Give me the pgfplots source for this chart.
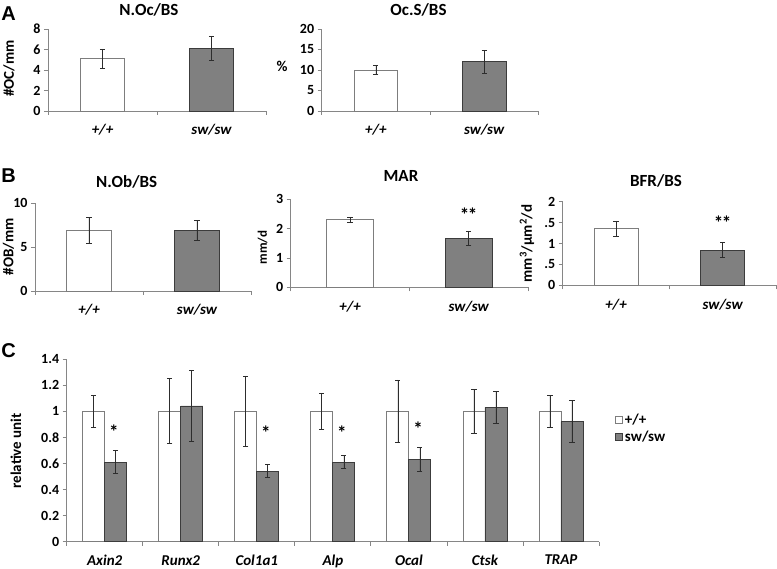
\documentclass[border=0pt]{standalone}
\usepackage{pgfplots}
\pgfplotsset{compat=1.18}
\usepackage{fontspec}
\setmainfont{Carlito}
\newfontfamily\letterfont{Liberation Sans}

\definecolor{axgray}{RGB}{134,134,134}
\definecolor{darkbar}{RGB}{128,128,128}
\definecolor{darkedge}{RGB}{60,60,60}
\definecolor{lightedge}{RGB}{125,125,125}
\definecolor{errc}{RGB}{45,45,45}

\newcommand{\tickfont}{\bfseries\fontsize{14}{14}\selectfont}
\newcommand{\catfont}{\bfseries\itshape\fontsize{15}{15}\selectfont}
\newcommand{\titlefont}{\bfseries\fontsize{17}{17}\selectfont}
\newcommand{\labfont}{\bfseries\fontsize{15}{15}\selectfont}
\newcommand{\starfont}{\bfseries\fontsize{19}{19}\selectfont}

\pgfplotsset{
  panel/.style={
    scale only axis, clip=false,
    axis x line*=bottom, axis y line*=left,
    axis line style={axgray, line width=0.8pt},
    every tick/.style={axgray, line width=0.8pt},
    tick align=outside, major tick length=4pt,
    ymin=0, xmin=0, xmax=2,
    xtick={0,1,2}, x tick label as interval,
    xticklabels={+/+, sw/sw},
    yticklabel style={font=\tickfont, text=black},
    xticklabel style={font=\catfont, text=black, yshift=-6pt},
    /pgf/number format/assume math mode=true,
  },
  wbar/.style={ybar, bar shift=0pt, fill=white, draw=lightedge, line width=0.8pt},
  gbar/.style={ybar, bar shift=0pt, fill=darkbar, draw=darkedge, line width=0.8pt},
  eb/.style={error bars/.cd, y dir=both, y explicit,
    error bar style={errc, line width=0.7pt},
    error mark options={rotate=90, errc, mark size=2.6pt, line width=0.7pt}},
}

\begin{document}
\begin{tikzpicture}
\path[use as bounding box] (0,0) rectangle (777pt,569pt);

% ---------- A: N.Oc/BS
\begin{axis}[panel, at={(48pt,458pt)}, anchor=south west,
  width=218pt, height=82pt, ymax=8, ytick={0,2,4,6,8},
  yticklabels={0,2,4,6,8}]
\addplot[wbar, bar width=44pt, eb] coordinates {(0.5,5.1) +- (0,0.95)};
\addplot[gbar, bar width=44pt, eb] coordinates {(1.5,6.1) +- (0,1.15)};
\end{axis}

% ---------- A: Oc.S/BS
\begin{axis}[panel, at={(321.7pt,458pt)}, anchor=south west,
  width=216.6pt, height=82pt, ymax=20, ytick={0,5,10,15,20},
  yticklabels={0,5,10,15,20}]
\addplot[wbar, bar width=43.5pt, eb] coordinates {(0.5,10) +- (0,1.1)};
\addplot[gbar, bar width=43.5pt, eb] coordinates {(1.5,12) +- (0,2.8)};
\end{axis}

% ---------- B: N.Ob/BS
\begin{axis}[panel, at={(35pt,278pt)}, anchor=south west,
  width=216pt, height=87.7pt, ymax=10, ytick={0,5,10},
  yticklabels={0,5,10}]
\addplot[wbar, bar width=44.5pt, eb] coordinates {(0.5,6.9) +- (0,1.5)};
\addplot[gbar, bar width=44.5pt, eb] coordinates {(1.5,6.9) +- (0,1.1)};
\end{axis}

% ---------- B: MAR
\begin{axis}[panel, at={(290.7pt,281.7pt)}, anchor=south west,
  width=237.3pt, height=88pt, ymax=3, ytick={0,1,2,3},
  yticklabels={0,1,2,3}]
\addplot[wbar, bar width=47.5pt, eb] coordinates {(0.5,2.3) +- (0,0.1)};
\addplot[gbar, bar width=47.5pt, eb] coordinates {(1.5,1.67) +- (0,0.25)};
\node[anchor=base, font=\starfont] at (axis cs:1.5,2.25) {*\kern-1.5pt*};
\end{axis}

% ---------- B: BFR/BS
\begin{axis}[panel, at={(562.7pt,283.7pt)}, anchor=south west,
  width=213.2pt, height=83.6pt, ymax=2, ytick={0,0.5,1,1.5,2},
  yticklabels={0,.5,1,.5,2}]
\addplot[wbar, bar width=44pt, eb] coordinates {(0.5,1.35) +- (0,0.19)};
\addplot[gbar, bar width=44pt, eb] coordinates {(1.5,0.84) +- (0,0.18)};
\node[anchor=base, font=\starfont] at (axis cs:1.5,1.34) {*\kern-1.5pt*};
\end{axis}

% ---------- C: qPCR
\begin{axis}[panel, at={(66.7pt,27.3pt)}, anchor=south west,
  width=532.3pt, height=182.7pt,
  ybar=0pt, bar width=22pt,
  xmin=-0.5, xmax=6.5, xtick={-0.5,0.5,...,6.5},
  xticklabels={Axin2,Runx2,Col1a1,Alp,Ocal,Ctsk,TRAP},
  xticklabel style={yshift=0pt},
  ymax=1.4, ytick={0,0.2,...,1.4},
  yticklabels={0,0.2,0.4,0.6,0.8,1,1.2,1.4},
  legend style={at={(1.03,0.71)}, anchor=north west, draw=none, fill=none,
    font=\labfont, row sep=1pt, inner sep=0pt},
  legend cell align=left,
  legend image code/.code={\draw[#1] (-4pt,-3.5pt) rectangle (3pt,3.5pt);},
]
\addplot[fill=white, draw=lightedge, line width=0.8pt, eb] coordinates {
  (0,1) +- (0,0.12)
  (1,1) +- (0,0.25)
  (2,1) +- (0,0.27)
  (3,1) +- (0,0.14)
  (4,1) +- (0,0.24)
  (5,1) +- (0,0.17)
  (6,1) +- (0,0.12)
};
\addplot[fill=darkbar, draw=darkedge, line width=0.8pt, eb] coordinates {
  (0,0.61) +- (0,0.09)
  (1,1.04) +- (0,0.27)
  (2,0.54) +- (0,0.05)
  (3,0.61) +- (0,0.05)
  (4,0.63) +- (0,0.09)
  (5,1.03) +- (0,0.12)
  (6,0.92) +- (0,0.16)
};
\legend{+/+, sw/sw}
\node[anchor=base, font=\starfont] at (axis cs:0.12,0.79) {*};
\node[anchor=base, font=\starfont] at (axis cs:2.12,0.78) {*};
\node[anchor=base, font=\starfont] at (axis cs:3.12,0.78) {*};
\node[anchor=base, font=\starfont] at (axis cs:4.12,0.81) {*};
\end{axis}

% titles, axis labels, panel letters
\node[font=\titlefont] at (149pt,559pt) {N.Oc/BS};
\node[font=\titlefont] at (418.5pt,559pt) {Oc.S/BS};
\node[font=\titlefont] at (126.7pt,387.5pt) {N.Ob/BS};
\node[font=\titlefont] at (401pt,393pt) {MAR};
\node[font=\titlefont] at (656pt,388pt) {BFR/BS};

\node[font=\labfont, rotate=90] at (9pt,500.5pt) {\#OC/mm};
\node[font=\labfont] at (282pt,503pt) {\%};
\node[font=\labfont, rotate=90] at (8.5pt,322.3pt) {\#OB/mm};
\node[font=\bfseries\fontsize{13}{13}\selectfont, rotate=90] at (262.5pt,321.5pt) {mm/d};
\node[font=\labfont, rotate=90] at (527pt,325.5pt) {mm\textsuperscript{3}/µm\textsuperscript{2}/d};
\node[font=\labfont, rotate=90] at (16pt,118pt) {relative unit};

\node[font=\letterfont\bfseries\fontsize{20}{20}\selectfont] at (8.5pt,555.5pt) {A};
\node[font=\letterfont\bfseries\fontsize{20}{20}\selectfont] at (8.5pt,393pt) {B};
\node[font=\letterfont\bfseries\fontsize{20}{20}\selectfont] at (8.5pt,218.5pt) {C};
\end{tikzpicture}
\end{document}
